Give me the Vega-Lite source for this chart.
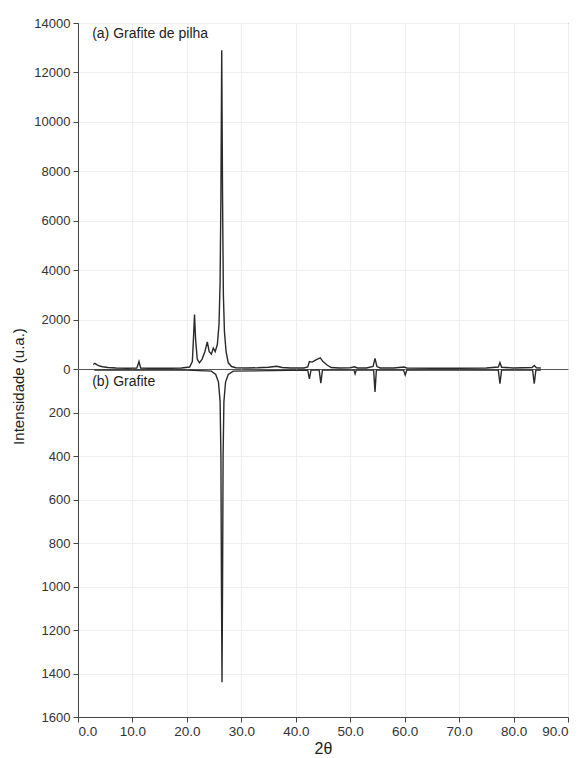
{
  "$schema": "https://vega.github.io/schema/vega-lite/v6.json",
  "background": "white",
  "padding": {"left": 10, "top": 16, "right": 14, "bottom": 2},
  "spacing": 0,
  "bounds": "flush",
  "config": {
    "view": {"stroke": "#555", "strokeWidth": 1},
    "axis": {
      "labelFont": "Liberation Sans", "labelFontSize": 13, "labelColor": "#333",
      "domainColor": "#444", "tickColor": "#444", "tickSize": 5,
      "gridColor": "#efefef", "titleFont": "Liberation Sans",
      "titleFontWeight": "normal", "titleColor": "#222"
    }
  },
  "datasets": {
    "a": [
      {"x": 2.8, "y": 180}, {"x": 3.1, "y": 230}, {"x": 3.5, "y": 170}, {"x": 4.0, "y": 120},
      {"x": 4.5, "y": 90}, {"x": 5.5, "y": 60}, {"x": 7.0, "y": 40}, {"x": 9.0, "y": 30},
      {"x": 10.8, "y": 35}, {"x": 11.2, "y": 300}, {"x": 11.5, "y": 40}, {"x": 13.0, "y": 30},
      {"x": 15.0, "y": 30}, {"x": 17.0, "y": 30}, {"x": 19.0, "y": 40}, {"x": 20.5, "y": 80},
      {"x": 21.0, "y": 300}, {"x": 21.2, "y": 1200}, {"x": 21.4, "y": 2200}, {"x": 21.6, "y": 1200},
      {"x": 21.9, "y": 400}, {"x": 22.3, "y": 250}, {"x": 22.8, "y": 400}, {"x": 23.3, "y": 700},
      {"x": 23.75, "y": 1100}, {"x": 24.1, "y": 700}, {"x": 24.5, "y": 600}, {"x": 24.85, "y": 850},
      {"x": 25.2, "y": 700}, {"x": 25.6, "y": 1000}, {"x": 25.9, "y": 1800}, {"x": 26.1, "y": 3500},
      {"x": 26.25, "y": 7000}, {"x": 26.4, "y": 12900}, {"x": 26.55, "y": 7000}, {"x": 26.7, "y": 3000},
      {"x": 26.9, "y": 1500}, {"x": 27.2, "y": 700}, {"x": 27.6, "y": 250}, {"x": 28.2, "y": 100},
      {"x": 29.0, "y": 50}, {"x": 31.0, "y": 40}, {"x": 33.0, "y": 50}, {"x": 35.0, "y": 70},
      {"x": 36.5, "y": 110}, {"x": 37.5, "y": 60}, {"x": 39.0, "y": 40}, {"x": 41.5, "y": 40},
      {"x": 42.2, "y": 80}, {"x": 42.5, "y": 300}, {"x": 43.0, "y": 280}, {"x": 43.8, "y": 380},
      {"x": 44.5, "y": 450}, {"x": 45.0, "y": 300}, {"x": 45.8, "y": 150}, {"x": 46.5, "y": 60},
      {"x": 48.0, "y": 40}, {"x": 50.0, "y": 50}, {"x": 50.8, "y": 90}, {"x": 51.3, "y": 40},
      {"x": 53.0, "y": 40}, {"x": 54.2, "y": 100}, {"x": 54.55, "y": 430}, {"x": 54.9, "y": 100},
      {"x": 55.5, "y": 40}, {"x": 58.0, "y": 40}, {"x": 59.9, "y": 80}, {"x": 60.4, "y": 40},
      {"x": 65.0, "y": 30}, {"x": 70.0, "y": 30}, {"x": 75.0, "y": 40}, {"x": 77.2, "y": 80},
      {"x": 77.5, "y": 260}, {"x": 77.8, "y": 70}, {"x": 80.0, "y": 40}, {"x": 83.4, "y": 60},
      {"x": 83.8, "y": 140}, {"x": 84.2, "y": 50}, {"x": 85.0, "y": 40}
    ],
    "b": [
      {"x": 3.0, "y": 5}, {"x": 20.0, "y": 5}, {"x": 24.5, "y": 10}, {"x": 25.3, "y": 25},
      {"x": 25.8, "y": 60}, {"x": 26.1, "y": 150}, {"x": 26.25, "y": 400}, {"x": 26.35, "y": 1000},
      {"x": 26.45, "y": 1440}, {"x": 26.55, "y": 1000}, {"x": 26.65, "y": 400}, {"x": 26.8, "y": 150},
      {"x": 27.1, "y": 60}, {"x": 27.6, "y": 25}, {"x": 28.5, "y": 10}, {"x": 42.2, "y": 5},
      {"x": 42.5, "y": 45}, {"x": 42.8, "y": 5}, {"x": 44.3, "y": 5}, {"x": 44.6, "y": 65},
      {"x": 44.9, "y": 5}, {"x": 50.7, "y": 5}, {"x": 50.9, "y": 22}, {"x": 51.1, "y": 5},
      {"x": 54.3, "y": 5}, {"x": 54.55, "y": 105}, {"x": 54.8, "y": 5}, {"x": 59.8, "y": 5},
      {"x": 60.1, "y": 28}, {"x": 60.4, "y": 5}, {"x": 77.2, "y": 5}, {"x": 77.5, "y": 68},
      {"x": 77.8, "y": 5}, {"x": 83.5, "y": 5}, {"x": 83.8, "y": 68}, {"x": 84.1, "y": 5},
      {"x": 85.0, "y": 5}
    ]
  },
  "vconcat": [
    {
      "width": 490, "height": 346,
      "layer": [
        {
          "data": {"name": "a"},
          "mark": {"type": "line", "color": "#2a2a2a", "strokeWidth": 1.4},
          "encoding": {
            "x": {"field": "x", "type": "quantitative", "scale": {"domain": [0, 90], "nice": false},
              "axis": {"title": null, "labels": false, "ticks": false, "domain": false, "grid": true,
                "values": [0, 10, 20, 30, 40, 50, 60, 70, 80, 90]}},
            "y": {"field": "y", "type": "quantitative", "scale": {"domain": [0, 14000], "nice": false},
              "axis": {"values": [0, 2000, 4000, 6000, 8000, 10000, 12000, 14000], "format": "d",
                "labelPadding": 3,
                "title": "Intensidade (u.a.)", "titleFontSize": 15, "titleX": -52, "titleY": 363,
                "titleAngle": -90, "titleAlign": "center", "titleBaseline": "bottom"}}
          }
        },
        {
          "data": {"values": [{"x": 2.6, "y": 13560, "label": "(a) Grafite de pilha"}]},
          "mark": {"type": "text", "align": "left", "baseline": "middle", "fontSize": 14,
            "font": "Liberation Sans", "color": "#222"},
          "encoding": {
            "x": {"field": "x", "type": "quantitative"},
            "y": {"field": "y", "type": "quantitative"},
            "text": {"field": "label"}
          }
        }
      ]
    },
    {
      "width": 490, "height": 348,
      "layer": [
        {
          "data": {"name": "b"},
          "mark": {"type": "line", "color": "#2a2a2a", "strokeWidth": 1.4},
          "encoding": {
            "x": {"field": "x", "type": "quantitative", "scale": {"domain": [0, 90], "nice": false},
              "axis": {"title": "2θ", "titleFontSize": 16, "titlePadding": 3, "format": ".1f", "grid": true,
                "labelFontSize": 13.5, "values": [0, 10, 20, 30, 40, 50, 60, 70, 80, 90]}},
            "y": {"field": "y", "type": "quantitative", "scale": {"domain": [0, 1600], "nice": false, "reverse": true},
              "axis": {"values": [200, 400, 600, 800, 1000, 1200, 1400, 1600], "format": "d", "title": null,
                "labelPadding": 3}}
          }
        },
        {
          "data": {"values": [{"x": 2.6, "y": 62, "label": "(b) Grafite"}]},
          "mark": {"type": "text", "align": "left", "baseline": "middle", "fontSize": 14,
            "font": "Liberation Sans", "color": "#222"},
          "encoding": {
            "x": {"field": "x", "type": "quantitative"},
            "y": {"field": "y", "type": "quantitative"},
            "text": {"field": "label"}
          }
        }
      ]
    }
  ]
}
